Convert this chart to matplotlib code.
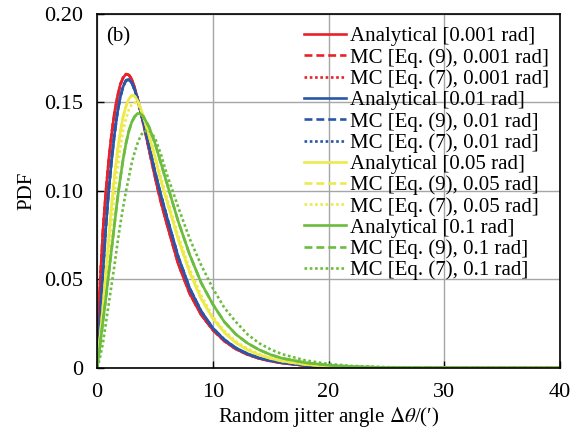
import numpy as np
import matplotlib.pyplot as plt

plt.rcParams['font.family'] = ['Liberation Serif', 'DejaVu Serif']
plt.rcParams['mathtext.fontset'] = 'stix'

# jitter angle grid (arcmin)
angle = [0, 0.1, 0.25, 0.5, 0.75, 1, 1.25, 1.5, 1.75, 2, 2.25, 2.5, 2.75, 3, 3.25, 3.5,
         3.75, 4, 4.5, 5, 5.5, 6, 7, 8, 9, 10, 11, 12, 13, 14, 15, 16, 18, 20, 22, 25, 30, 40]

# PDF values
pdf_001 = [0, 0.022, 0.047, 0.077, 0.099, 0.117, 0.132, 0.144, 0.153, 0.160, 0.164, 0.166,
           0.1655, 0.163, 0.158, 0.152, 0.145, 0.138, 0.123, 0.108, 0.094, 0.082, 0.059,
           0.042, 0.030, 0.0215, 0.0152, 0.0107, 0.0076, 0.0054, 0.0039, 0.0028, 0.0014,
           0.0007, 0.0003, 0.0001, 0, 0]
pdf_01 = [0, 0.012, 0.028, 0.053, 0.079, 0.100, 0.117, 0.132, 0.144, 0.153, 0.159, 0.1625,
          0.1628, 0.161, 0.157, 0.152, 0.145, 0.139, 0.125, 0.111, 0.098, 0.086, 0.063,
          0.045, 0.032, 0.0225, 0.016, 0.0113, 0.008, 0.0057, 0.0042, 0.003, 0.0015,
          0.0008, 0.0004, 0.0001, 0, 0]
pdf_05 = [0, 0.007, 0.017, 0.034, 0.053, 0.073, 0.092, 0.108, 0.122, 0.133, 0.142, 0.148,
          0.152, 0.154, 0.1535, 0.151, 0.147, 0.142, 0.131, 0.119, 0.106, 0.095, 0.073,
          0.054, 0.039, 0.028, 0.020, 0.0142, 0.0102, 0.0074, 0.0054, 0.0039, 0.002,
          0.001, 0.0005, 0.0002, 0, 0]
pdf_05_eq7 = [0, 0.006, 0.014, 0.029, 0.046, 0.064, 0.082, 0.098, 0.112, 0.124, 0.134, 0.141,
              0.146, 0.149, 0.150, 0.149, 0.146, 0.142, 0.132, 0.120, 0.108, 0.097, 0.075,
              0.056, 0.041, 0.029, 0.021, 0.015, 0.011, 0.0079, 0.0057, 0.0041, 0.0022,
              0.0012, 0.0006, 0.0002, 0, 0]
pdf_1 = [0, 0.005, 0.013, 0.026, 0.039, 0.053, 0.067, 0.081, 0.095, 0.107, 0.118, 0.127,
         0.134, 0.139, 0.142, 0.1438, 0.1435, 0.142, 0.136, 0.127, 0.116, 0.105, 0.083,
         0.064, 0.048, 0.036, 0.026, 0.019, 0.014, 0.0103, 0.0075, 0.0055, 0.003,
         0.0016, 0.0008, 0.0003, 0.00005, 0]
pdf_1_eq7 = [0, 0.002, 0.006, 0.014, 0.025, 0.036, 0.047, 0.058, 0.070, 0.081, 0.091, 0.100,
             0.108, 0.116, 0.122, 0.127, 0.131, 0.1335, 0.1342, 0.130, 0.121, 0.110, 0.091,
             0.073, 0.058, 0.045, 0.034, 0.026, 0.019, 0.014, 0.0105, 0.0078, 0.0043,
             0.0023, 0.0012, 0.0005, 0.0001, 0]

jitter_labels = ['0.001', '0.01', '0.05', '0.1']
colors = ['#e8222b', '#2a56a8', '#eeea4a', '#6cbd3e']
analytical = [pdf_001, pdf_01, pdf_05, pdf_1]
mc_eq9 = [pdf_001, pdf_01, pdf_05, pdf_1]
mc_eq7 = [pdf_001, pdf_01, pdf_05_eq7, pdf_1_eq7]

fig = plt.figure(figsize=(5.78, 4.34), dpi=100)
ax = fig.add_axes([0.168, 0.152, 0.801, 0.816])

for lab, c, a, m9, m7 in zip(jitter_labels, colors, analytical, mc_eq9, mc_eq7):
    ax.plot(angle, a, color=c, lw=1.9, ls='-', label=f'Analytical [{lab} rad]')
    ax.plot(angle, m9, color=c, lw=1.9, ls=(0, (3, 1.5)), label=f'MC [Eq. (9), {lab} rad]')
    ax.plot(angle, m7, color=c, lw=1.9, ls=(0, (1, 1)), label=f'MC [Eq. (7), {lab} rad]')

ax.set_xlim(0, 40)
ax.set_ylim(0, 0.2)
ax.set_xticks([0, 10, 20, 30, 40])
ax.set_yticks([0, 0.05, 0.10, 0.15, 0.20])
ax.set_yticklabels(['0', '0.05', '0.10', '0.15', '0.20'])
ax.grid(True, color='#a6a6a6', lw=1.0)
ax.set_axisbelow(True)
ax.tick_params(direction='in', length=5, width=1, labelsize=16)
ax.tick_params(axis='x', pad=11)
ax.tick_params(axis='y', pad=10)
for s in ax.spines.values():
    s.set_linewidth(1.2)

ax.set_xlabel(r'Random jitter angle $\Delta\theta$/(′)', fontsize=15, labelpad=2)
ax.set_ylabel('PDF', fontsize=15, labelpad=6)
ax.text(0.02, 0.935, '(b)', transform=ax.transAxes, fontsize=15, va='center')

ax.legend(loc='upper right', frameon=False, fontsize=15, handlelength=2.0,
          handletextpad=0.2, labelspacing=0.075, borderaxespad=0, borderpad=0.2,
          bbox_to_anchor=(0.985, 0.975))

plt.savefig('out.png', dpi=100)
